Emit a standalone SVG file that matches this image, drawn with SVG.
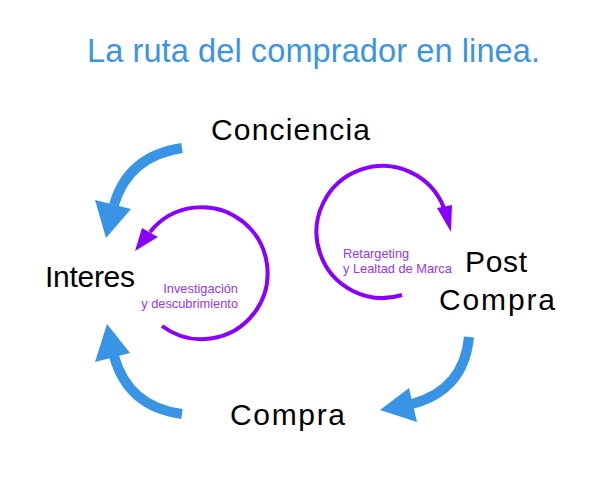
<svg xmlns="http://www.w3.org/2000/svg" width="595" height="477" viewBox="0 0 595 477">
<style>
.title{font-family:"Liberation Sans",Arial,sans-serif;font-size:32.5px;fill:#3a94e6}
.lbl{font-family:"Liberation Sans",Arial,sans-serif;font-size:30px;fill:#000}
.sm{font-family:"Liberation Sans",Arial,sans-serif;font-size:12.8px;fill:#9a35f5}
.blue{fill:none;stroke:#3a94e6;stroke-width:10}
.bhead{fill:#3a94e6}
.purp{fill:none;stroke:#8a00ff;stroke-width:4}
.phead{fill:#8a00ff}
</style>
<rect width="595" height="477" fill="#fff"/>
<text class="title" x="87" y="62" textLength="453">La ruta del comprador en linea.</text>
<g id="conciencia"><text class="lbl" x="211" y="140" textLength="159">Conciencia</text></g>
<g id="interes"><text class="lbl" x="45" y="287" textLength="90">Interes</text></g>
<g id="postcompra"><text class="lbl" x="465" y="272" textLength="62">Post</text><text class="lbl" x="439" y="310" textLength="116">Compra</text></g>
<g id="compra"><text class="lbl" x="230" y="425" textLength="115">Compra</text></g>
<g id="investigacion"><text class="sm" x="238" y="293" text-anchor="end">Investigación</text><text class="sm" x="238" y="308" text-anchor="end">y descubrimiento</text></g>
<g id="retargeting"><text class="sm" x="343" y="258">Retargeting</text><text class="sm" x="343" y="273">y Lealtad de Marca</text></g>
<g id="connectors">
<path class="blue" d="M182,148 Q128,156 114,205"/>
<polygon class="bhead" points="95,200 131,209 106,238"/>
<path class="blue" d="M182,414 Q128,407 114,356"/>
<polygon class="bhead" points="107,324 95,362 130,353"/>
<path class="blue" d="M469,337 Q464,390 412,404"/>
<polygon class="bhead" points="380,410 409,388 417,422"/>
<path class="purp" d="M162,326 A66,66 0 1 0 150,232"/>
<polygon class="phead" points="142,228 158,237 135,251"/>
<path class="purp" d="M402,295 A66,66 0 1 1 444,208"/>
<polygon class="phead" points="437,208 452,205 451,232"/>
</g>
</svg>
